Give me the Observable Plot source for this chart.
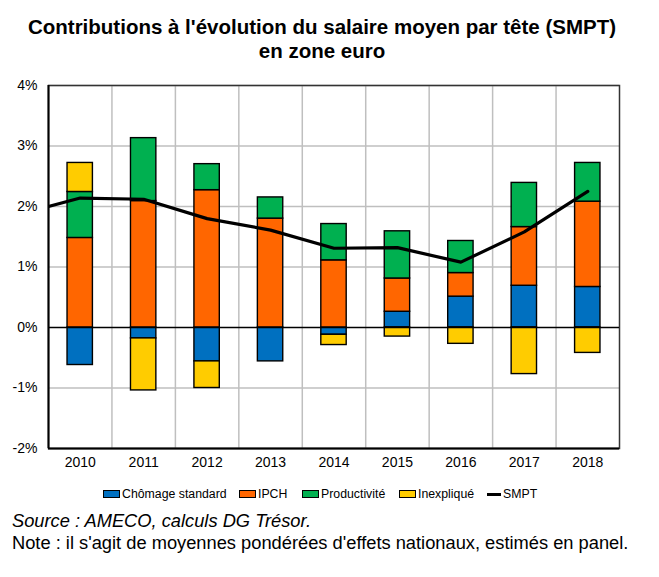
<!DOCTYPE html>
<html><head><meta charset="utf-8">
<script src="https://cdn.jsdelivr.net/npm/d3@7"></script>
<script src="https://cdn.jsdelivr.net/npm/@observablehq/plot@0.6"></script>
<style>
body{margin:0;background:#fff;font-family:"Liberation Sans",Arial,sans-serif;color:#000;}
#wrap{position:relative;width:659px;height:577px;overflow:hidden;}
#title{position:absolute;top:15px;left:-16px;width:676px;text-align:center;font-weight:bold;font-size:20.5px;line-height:24px;}
#chart{position:absolute;top:64px;left:0;}
.leg{position:absolute;top:487px;font-size:12.3px;line-height:14px;white-space:nowrap;display:flex;align-items:center;}
.sw{display:inline-block;width:15px;height:6px;border:1px solid #000;margin-right:2px;}
.ln{display:inline-block;width:14px;height:3px;background:#000;margin-right:2px;}
.src{position:absolute;left:12px;font-size:18.3px;white-space:nowrap;}
</style></head>
<body><div id="wrap">
<div id="title">Contributions à l'évolution du salaire moyen par tête (SMPT)<br>en zone euro</div>
<div id="chart"></div>
<div id="legend"></div>
<div class="src" style="top:510px;font-style:italic;">Source : AMECO, calculs DG Trésor.</div>
<div class="src" style="top:532px;">Note : il s'agit de moyennes pondérées d'effets nationaux, estimés en panel.</div>
</div>
<script>
const years = [2010, 2011, 2012, 2013, 2014, 2015, 2016, 2017, 2018];
const seriesNames = ["Chômage standard", "IPCH", "Productivité", "Inexpliqué"];
const seriesColors = ["#0070C0", "#FF6600", "#00B050", "#FFCC00"];
const chomage      = [-0.62, -0.18, -0.56, -0.56, -0.12, 0.26, 0.51, 0.69, 0.67];
const ipch         = [ 1.48,  2.09,  2.27,  1.80,  1.11, 0.55, 0.39, 0.97, 1.41];
const productivite = [ 0.76,  1.04,  0.43,  0.35,  0.60, 0.78, 0.53, 0.73, 0.64];
const inexplique   = [ 0.48, -0.86, -0.44,  0.00, -0.17, -0.15, -0.27, -0.77, -0.42];
const smptYears = [2009, 2010, 2011, 2012, 2013, 2014, 2015, 2016, 2017, 2018];
const smpt      = [1.86, 2.14, 2.12, 1.80, 1.61, 1.31, 1.32, 1.08, 1.58, 2.25];
const yTicks = [-2, -1, 0, 1, 2, 3, 4];

const seriesValues = [chomage, ipch, productivite, inexplique];
const stacked = [];
years.forEach((yr, i) => {
  let pos = 0, neg = 0;
  seriesNames.forEach((s, k) => {
    const v = seriesValues[k][i];
    if (v === 0) return;
    if (v > 0) { stacked.push({year: yr, series: s, y1: pos, y2: pos + v}); pos += v; }
    else { stacked.push({year: yr, series: s, y1: neg, y2: neg + v}); neg += v; }
  });
});
const smptData = smptYears.map((y, i) => ({year: y, value: smpt[i]}));
const xMin = years[0] - 0.5, xMax = years[years.length - 1] + 0.5;
const inner = d3.range(years[0] + 0.5, years[years.length - 1], 1);

const chart = Plot.plot({
  width: 659, height: 410,
  marginLeft: 48, marginRight: 40, marginTop: 21, marginBottom: 26,
  x: {domain: [xMin, xMax], ticks: years, tickFormat: d => String(d), tickSize: 0, tickPadding: 9, label: null},
  y: {domain: [yTicks[0], yTicks[yTicks.length - 1]], ticks: yTicks, tickFormat: d => d + "%", tickSize: 0, tickPadding: 11, label: null},
  color: {domain: seriesNames, range: seriesColors},
  style: {fontFamily: '"Liberation Sans", Arial, sans-serif', fontSize: "14px", color: "#000", background: "#fff", overflow: "visible"},
  marks: [
    Plot.ruleY(yTicks.filter(d => d !== 0), {stroke: "#bfbfbf", strokeWidth: 1.5}),
    Plot.ruleX(inner, {stroke: "#bfbfbf", strokeWidth: 1.5}),
    Plot.frame({stroke: "#333", strokeWidth: 1.5}),
    Plot.rect(stacked, {x1: d => d.year - 0.2, x2: d => d.year + 0.2, y1: "y1", y2: "y2", fill: "series", stroke: "#000", strokeWidth: 1.4}),
    Plot.ruleY([0], {stroke: "#000", strokeWidth: 1.5}),
    Plot.ruleX([xMin], {stroke: "#000", strokeWidth: 2}),
    Plot.ruleY([yTicks[0]], {stroke: "#000", strokeWidth: 2}),
    Plot.line(smptData, {x: "year", y: "value", stroke: "#000", strokeWidth: 3.2, clip: true})
  ]
});
document.getElementById("chart").appendChild(chart);

const legendItems = [
  {label: seriesNames[0], color: seriesColors[0], left: 103},
  {label: seriesNames[1], color: seriesColors[1], left: 239},
  {label: seriesNames[2], color: seriesColors[2], left: 302},
  {label: seriesNames[3], color: seriesColors[3], left: 399},
  {label: "SMPT", color: null, left: 487}
];
const leg = document.getElementById("legend");
legendItems.forEach(it => {
  const d = document.createElement("div");
  d.className = "leg";
  d.style.left = it.left + "px";
  const m = document.createElement("span");
  if (it.color) { m.className = "sw"; m.style.background = it.color; } else { m.className = "ln"; }
  d.appendChild(m);
  d.appendChild(document.createTextNode(it.label));
  leg.appendChild(d);
});
</script>
</body></html>
